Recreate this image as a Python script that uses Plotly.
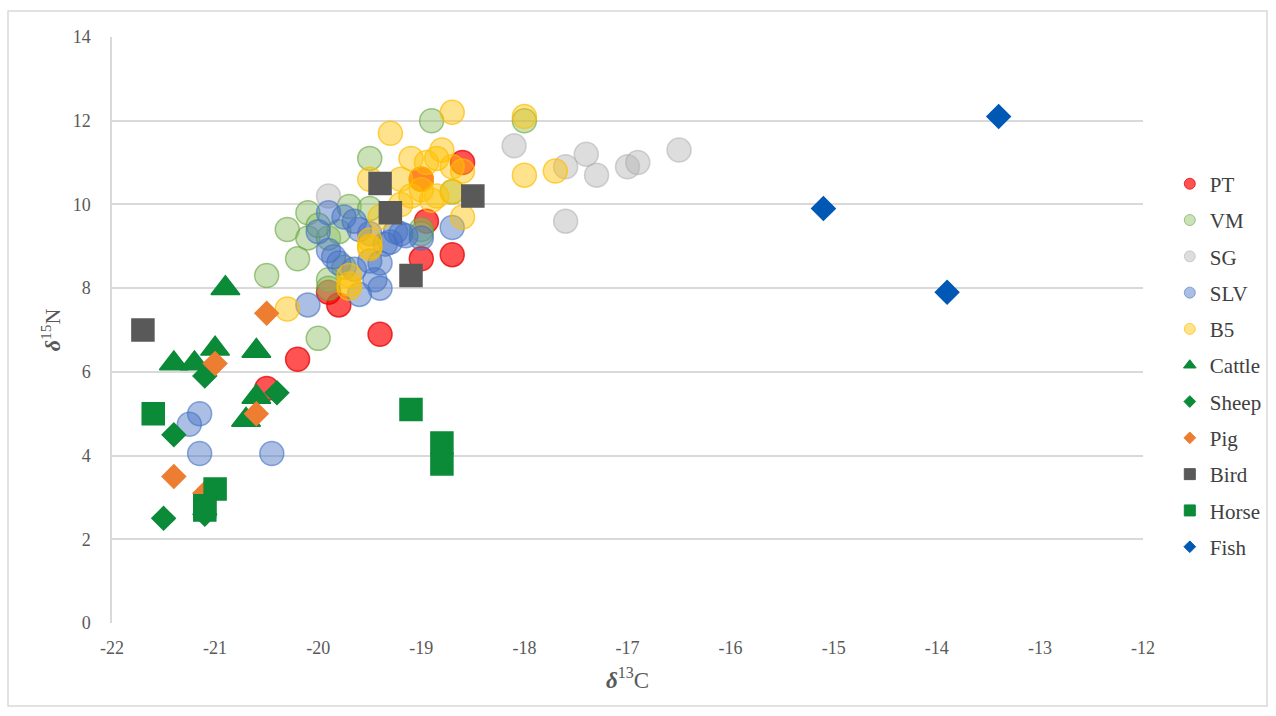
import plotly.graph_objects as go

# Stable isotope values (delta 13C, delta 15N) per group
pt_c = [-18.6, -19.0, -18.95, -19.0, -18.7, -19.4, -19.8, -19.9, -20.2, -20.5]
pt_n = [11.0, 10.6, 9.6, 8.7, 8.8, 6.9, 7.6, 7.9, 6.3, 5.6]

vm_c = [-18.9, -18.0, -19.5, -20.1, -20.3, -20.2, -20.5, -20.0, -19.9, -19.7,
        -19.5, -20.1, -19.9, -19.8, -18.7, -19.0, -19.75, -20.0, -19.9, -19.0]
vm_n = [12.0, 12.0, 11.1, 9.8, 9.4, 8.7, 8.3, 6.8, 8.2, 9.95,
        9.9, 9.2, 9.2, 9.35, 10.3, 9.4, 8.5, 9.5, 8.0, 9.3]

sg_c = [-19.9, -18.1, -17.6, -17.4, -17.3, -17.0, -16.9, -16.5, -17.6]
sg_n = [10.2, 11.4, 10.9, 11.2, 10.7, 10.9, 11.0, 11.3, 9.6]

slv_c = [-21.15, -21.25, -21.15, -20.45, -20.1, -20.0, -19.9, -19.75, -19.65, -19.85,
         -19.9, -19.8, -19.5, -19.4, -19.45, -19.4, -19.6, -19.65, -19.3, -19.25,
         -19.15, -19.0, -18.7, -19.35, -19.6, -19.5, -19.2]
slv_n = [5.0, 4.75, 4.05, 4.05, 7.6, 9.35, 9.8, 9.7, 9.6, 8.75,
         8.9, 8.6, 8.65, 8.6, 8.2, 8.0, 7.85, 8.45, 9.1, 9.35,
         9.25, 9.2, 9.45, 9.05, 9.4, 9.3, 9.3]

b5_c = [-18.7, -18.0, -19.3, -19.1, -18.8, -18.85, -18.95, -18.7, -18.6, -19.2,
        -19.0, -19.5, -19.0, -18.7, -19.1, -18.85, -19.2, -18.9, -19.4, -18.6,
        -19.5, -19.5, -19.5, -19.7, -19.7, -19.7, -20.3, -18.0, -17.7]
b5_n = [12.2, 12.1, 11.7, 11.1, 11.3, 11.1, 11.0, 10.9, 10.8, 10.6,
        10.6, 10.6, 10.35, 10.3, 10.2, 10.2, 10.0, 10.1, 9.7, 9.7,
        9.15, 9.0, 8.95, 8.3, 8.1, 8.0, 7.5, 10.7, 10.8]

cattle_c = [-20.9, -21.4, -21.2, -21.0, -20.6, -20.6, -20.7]
cattle_n = [8.0, 6.2, 6.2, 6.55, 6.5, 5.4, 4.85]

sheep_c = [-21.1, -20.4, -21.4, -21.5, -21.1]
sheep_n = [5.9, 5.5, 4.5, 2.5, 2.6]

pig_c = [-20.5, -21.0, -20.6, -21.4, -21.1]
pig_n = [7.4, 6.2, 5.0, 3.5, 3.1]

bird_c = [-21.7, -19.4, -19.3, -19.1, -18.5]
bird_n = [7.0, 10.5, 9.8, 8.3, 10.2]

horse_c = [-21.6, -21.0, -21.1, -21.1, -19.1, -18.8, -18.8]
horse_n = [5.0, 3.2, 2.8, 2.7, 5.1, 4.3, 3.8]

fish_c = [-15.1, -13.9, -13.4]
fish_n = [9.9, 7.9, 12.1]

x_ticks = [-22, -21, -20, -19, -18, -17, -16, -15, -14, -13, -12]
y_ticks = [0, 2, 4, 6, 8, 10, 12, 14]

SERIF = "Liberation Serif"
GREEN = "#0B8A38"

series = [
    ("PT", pt_c, pt_n, "circle", 24, "rgba(255,0,0,0.68)", "rgba(230,0,0,0.75)"),
    ("VM", vm_c, vm_n, "circle", 24, "rgba(140,190,100,0.45)", "rgba(100,165,60,0.6)"),
    ("SG", sg_c, sg_n, "circle", 24, "rgba(180,180,180,0.45)", "rgba(170,170,170,0.5)"),
    ("SLV", slv_c, slv_n, "circle", 24, "rgba(68,114,196,0.45)", "rgba(68,114,196,0.6)"),
    ("B5", b5_c, b5_n, "circle", 24, "rgba(255,192,0,0.45)", "rgba(255,190,0,0.7)"),
    ("Cattle", cattle_c, cattle_n, "triangle-up", 25, GREEN, GREEN),
    ("Sheep", sheep_c, sheep_n, "diamond", 18, GREEN, GREEN),
    ("Pig", pig_c, pig_n, "diamond", 18, "#ED7D31", "#ED7D31"),
    ("Bird", bird_c, bird_n, "square", 22, "#595959", "#595959"),
    ("Horse", horse_c, horse_n, "square", 22, GREEN, GREEN),
    ("Fish", fish_c, fish_n, "diamond", 18, "#0058B5", "#0058B5"),
]

fig = go.Figure()
for name, xs, ys, sym, size, fill, edge in series:
    fig.add_trace(go.Scatter(
        x=xs, y=ys, mode="markers", name=name, showlegend=False,
        marker=dict(symbol=sym, size=size, color=fill,
                    line=dict(color=edge, width=1.5)),
        hoverinfo="x+y+name",
    ))

# compact legend entries with smaller symbols
for name, xs, ys, sym, size, fill, edge in series:
    lsize = 11 if sym != "diamond" else 9
    fig.add_trace(go.Scatter(
        x=[None], y=[None], mode="markers", name=name, legendgroup=name,
        marker=dict(symbol=sym, size=lsize, color=fill,
                    line=dict(color=edge, width=1)),
    ))

fig.update_layout(
    width=1276, height=716,
    margin=dict(l=112, r=133, t=37, b=93, autoexpand=False),
    paper_bgcolor="white", plot_bgcolor="white",
    font=dict(family=SERIF, color="#595959", size=18),
    showlegend=True,
    legend=dict(x=1.026, y=0.784, xanchor="left", yanchor="top",
                font=dict(family=SERIF, size=21, color="#404040"),
                tracegroupgap=6, itemsizing="trace",
                bgcolor="rgba(0,0,0,0)"),
    xaxis=dict(range=[-22, -12], tickvals=x_ticks,
               ticktext=[str(v) for v in x_ticks],
               showgrid=False, zeroline=False,
               showline=False, ticks="", ticklen=0,
               ticklabelstandoff=12,
               tickfont=dict(family=SERIF, size=18, color="#595959"),
               title=dict(text="<b><i>δ</i></b><sup>13</sup>C",
                          font=dict(family=SERIF, size=23, color="#595959"),
                          standoff=14)),
    yaxis=dict(range=[0, 14], tickvals=y_ticks,
               ticktext=[str(v) for v in y_ticks],
               showgrid=True, gridcolor="#D9D9D9", gridwidth=1.5,
               zeroline=False, showline=True, linecolor="#D9D9D9", linewidth=1.5,
               ticks="", ticklen=0,
               ticklabelstandoff=16,
               tickfont=dict(family=SERIF, size=18, color="#595959"),
               title=dict(text="<b><i>δ</i></b><sup>15</sup>N",
                          font=dict(family=SERIF, size=22, color="#595959"),
                          standoff=6)),
)

# outer frame around the whole figure
fig.add_shape(type="rect", xref="paper", yref="paper",
              x0=(8 - 112) / 1031, x1=(1267 - 112) / 1031,
              y0=(623 - 706) / 586, y1=(623 - 11) / 586,
              line=dict(color="#D9D9D9", width=1.5), fillcolor="rgba(0,0,0,0)",
              layer="below")

fig.write_html("out.html")
